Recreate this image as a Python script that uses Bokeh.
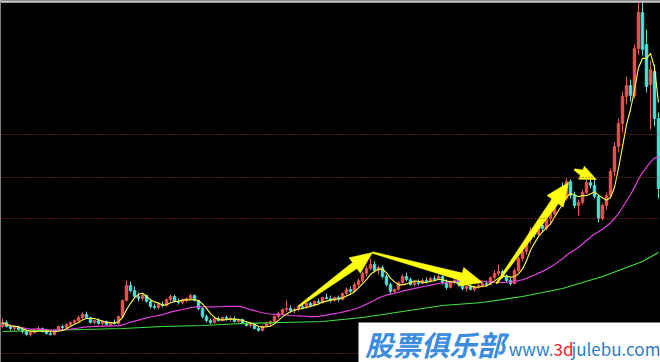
import numpy as np
import pandas as pd
from bokeh.plotting import figure
from bokeh.models import Range1d, Span, BoxAnnotation, Label, ColumnDataSource
from bokeh.embed import file_html
from bokeh.resources import INLINE

# Daily OHLC prices
opens = [6.8, 7.2, 6.8, 6.6, 6.7, 6.5, 6.3, 6.0, 6.2, 6.5,
         6.6, 6.3, 6.1, 6.0, 6.4, 6.8, 6.7, 7.0, 7.2, 7.4,
         7.7, 8.0, 7.7, 7.2, 7.4, 7.1, 7.3, 7.0, 7.2, 7.1,
         7.8, 9.4, 10.9, 10.4, 9.8, 9.6, 9.9, 9.3, 8.8, 8.7,
         9.0, 8.9, 9.5, 9.8, 9.3, 9.2, 9.4, 9.6, 9.9, 9.4,
         8.6, 7.8, 7.4, 7.2, 7.6, 7.4, 7.7, 7.5, 7.6, 7.3,
         7.5, 7.1, 6.9, 7.0, 6.6, 6.4, 6.8, 7.1, 7.3, 7.8,
         8.1, 8.5, 8.6, 8.4, 8.5, 8.8, 8.7, 9.1, 8.9, 9.3,
         9.2, 9.7, 9.6, 9.4, 9.7, 9.5, 10.1, 10.5, 10.3, 11.0,
         11.4, 12.1, 12.6, 13.0, 12.4, 12.7, 11.8, 11.0, 10.3, 10.5,
         11.2, 11.8, 11.5, 11.0, 11.2, 11.1, 11.4, 11.3, 11.6, 11.5,
         11.8, 11.2, 10.7, 11.2, 11.4, 11.0, 10.6, 10.8, 10.5, 10.8,
         10.9, 11.1, 11.0, 11.7, 12.1, 12.3, 11.8, 11.4, 11.1, 12.4,
         13.6, 14.3, 15.5, 16.3, 16.0, 16.9, 16.6, 17.6, 18.1, 19.5,
         20.2, 19.6, 21.3, 19.9, 18.9, 19.2, 20.2, 21.2, 20.9, 19.8,
         17.6, 18.9, 19.9, 22.3, 24.8, 27.1, 29.8, 30.9, 29.9, 34.6,
         38.2, 35.0, 31.0, 32.3, 27.6]
highs = [7.6, 7.4, 7.0, 6.9, 6.9, 6.7, 6.5, 6.3, 6.6, 6.8,
         6.7, 6.5, 6.4, 6.5, 6.9, 7.0, 7.1, 7.3, 7.5, 7.9,
         8.2, 8.3, 7.8, 7.5, 7.6, 7.4, 7.4, 7.3, 7.5, 7.9,
         9.5, 11.4, 11.3, 10.8, 10.2, 10.1, 10.0, 9.5, 9.1, 9.2,
         9.3, 9.6, 10.0, 10.0, 9.6, 9.6, 9.7, 10.1, 10.0, 9.5,
         8.7, 8.0, 7.6, 7.7, 7.8, 7.8, 7.9, 7.8, 7.8, 7.6,
         7.6, 7.3, 7.2, 7.1, 6.8, 6.9, 7.2, 7.4, 7.9, 8.3,
         8.6, 9.4, 8.9, 8.7, 8.9, 9.1, 9.2, 9.3, 9.4, 9.6,
         9.8, 10.1, 9.9, 9.8, 9.9, 10.2, 10.7, 10.8, 11.2, 11.6,
         12.3, 12.9, 13.6, 13.3, 12.9, 12.9, 12.0, 11.2, 10.6, 11.3,
         12.0, 12.2, 11.7, 11.4, 11.5, 11.6, 11.7, 11.8, 11.9, 12.0,
         11.9, 11.5, 11.4, 11.6, 11.5, 11.1, 10.9, 11.0, 10.9, 11.1,
         11.2, 11.4, 11.8, 12.4, 13.0, 12.5, 12.0, 11.7, 12.6, 13.8,
         14.6, 15.8, 16.7, 16.8, 17.2, 17.6, 17.9, 18.4, 19.8, 20.5,
         21.2, 21.6, 21.5, 20.3, 19.5, 20.5, 21.5, 21.6, 21.6, 20.0,
         19.1, 20.2, 22.6, 25.2, 27.6, 30.3, 31.8, 31.5, 35.0, 39.3,
         39.2, 36.5, 33.4, 33.0, 28.2]
lows = [6.6, 6.7, 6.4, 6.3, 6.4, 6.1, 5.9, 5.8, 6.1, 6.3,
        6.2, 6.0, 5.9, 5.9, 6.3, 6.5, 6.6, 6.8, 7.0, 7.2,
        7.5, 7.6, 7.1, 7.0, 7.0, 6.9, 6.9, 6.8, 7.0, 7.0,
        7.7, 9.3, 10.2, 9.6, 9.3, 9.4, 9.2, 8.6, 8.5, 8.5,
        8.7, 8.8, 9.3, 9.2, 9.0, 9.0, 9.2, 9.4, 9.3, 8.4,
        7.6, 7.2, 7.0, 7.1, 7.3, 7.3, 7.4, 7.3, 7.2, 7.1,
        7.0, 6.8, 6.7, 6.5, 6.3, 6.3, 6.7, 6.9, 7.2, 7.6,
        8.0, 8.3, 8.2, 8.1, 8.3, 8.5, 8.6, 8.7, 8.8, 9.0,
        9.1, 9.5, 9.2, 9.3, 9.3, 9.4, 9.9, 10.1, 10.2, 10.7,
        11.2, 11.8, 12.4, 12.2, 12.0, 11.6, 10.8, 10.0, 10.1, 10.4,
        11.0, 11.3, 10.9, 10.8, 10.9, 11.0, 11.1, 11.2, 11.3, 11.4,
        11.0, 10.5, 10.6, 11.0, 10.8, 10.4, 10.3, 10.4, 10.3, 10.6,
        10.7, 10.8, 10.9, 11.5, 11.9, 11.6, 11.2, 10.9, 11.0, 12.2,
        13.3, 14.0, 15.1, 15.7, 15.8, 16.3, 16.4, 17.0, 17.9, 19.2,
        19.3, 19.4, 19.6, 18.6, 17.9, 19.0, 20.0, 20.6, 19.6, 17.2,
        17.4, 18.5, 19.7, 21.8, 24.2, 26.2, 29.0, 29.3, 29.6, 34.0,
        33.9, 30.2, 26.5, 26.8, 19.6]
closes = [7.2, 6.8, 6.6, 6.7, 6.5, 6.3, 6.0, 6.2, 6.5, 6.6,
          6.3, 6.1, 6.0, 6.4, 6.8, 6.7, 7.0, 7.2, 7.4, 7.7,
          8.0, 7.7, 7.2, 7.4, 7.1, 7.3, 7.0, 7.2, 7.1, 7.8,
          9.4, 10.9, 10.4, 9.8, 9.6, 9.9, 9.3, 8.8, 8.7, 9.0,
          8.9, 9.5, 9.8, 9.3, 9.2, 9.4, 9.6, 9.9, 9.4, 8.6,
          7.8, 7.4, 7.2, 7.6, 7.4, 7.7, 7.5, 7.6, 7.3, 7.5,
          7.1, 6.9, 7.0, 6.6, 6.4, 6.8, 7.1, 7.3, 7.8, 8.1,
          8.5, 8.6, 8.4, 8.5, 8.8, 8.7, 9.1, 8.9, 9.3, 9.2,
          9.7, 9.6, 9.4, 9.7, 9.5, 10.1, 10.5, 10.3, 11.0, 11.4,
          12.1, 12.6, 13.0, 12.4, 12.7, 11.8, 11.0, 10.3, 10.5, 11.2,
          11.8, 11.5, 11.0, 11.2, 11.1, 11.4, 11.3, 11.6, 11.5, 11.8,
          11.2, 10.7, 11.2, 11.4, 11.0, 10.6, 10.8, 10.5, 10.8, 10.9,
          11.1, 11.0, 11.7, 12.1, 12.3, 11.8, 11.4, 11.1, 12.4, 13.6,
          14.3, 15.5, 16.3, 16.0, 16.9, 16.6, 17.6, 18.1, 19.5, 20.2,
          19.6, 21.3, 19.9, 18.9, 19.2, 20.2, 21.2, 20.9, 19.8, 17.6,
          18.9, 19.9, 22.3, 24.8, 27.1, 29.8, 30.9, 29.9, 34.6, 38.2,
          34.5, 30.8, 32.5, 27.6, 20.6]

# Long-term moving average (sampled every ten sessions)
ma_long_idx = [0, 10, 20, 30, 40, 50, 60, 70, 80, 90,
               100, 110, 120, 130, 140, 150, 160, 164]
ma_long_val = [6.3, 6.4, 6.5, 6.6, 6.8, 6.9, 7.1, 7.2, 7.3, 7.7,
               8.3, 8.9, 9.2, 9.8, 10.6, 11.8, 13.3, 14.2]

# Horizontal price reference levels
grid_levels = [26.0, 21.7, 17.6, 4.1]

# Trend arrows: tail -> tip (session index, price), relative head size
arrow_tail_x = [74.0, 92.5, 123.5, 143.0]
arrow_tail_y = [8.8, 14.2, 11.1, 22.5]
arrow_tip_x = [92.5, 120.0, 141.5, 148.5]
arrow_tip_y = [14.2, 11.2, 21.2, 21.5]
arrow_scale = [1.0, 1.0, 1.05, 0.75]

W, H = 660, 362
n = len(closes)
x_lo, x_hi = -0.5, n - 0.5
y_lo, y_hi = 3.2, 39.4

idx = np.arange(n)
o = np.array(opens); c = np.array(closes)
hi = np.array(highs); lo = np.array(lows)
up = c >= o
RED, CYAN = "#f25450", "#4fe3dc"
colors = [RED if u else CYAN for u in up]

src = ColumnDataSource(dict(
    x=idx, top=np.maximum(o, c), bottom=np.minimum(o, c),
    high=hi, low=lo, color=colors))

close_s = pd.Series(closes)
ma_short = close_s.rolling(5, min_periods=1).mean()
ma_mid = close_s.rolling(30, min_periods=1).mean()

p = figure(width=W, height=H, x_range=Range1d(x_lo, x_hi), y_range=Range1d(y_lo, y_hi),
           x_axis_type=None, y_axis_type=None, toolbar_location=None,
           output_backend="svg", min_border=0)
p.min_border_left = p.min_border_right = p.min_border_top = p.min_border_bottom = 0
p.background_fill_color = "black"
p.border_fill_color = "black"
p.outline_line_color = None
p.grid.visible = False

for lvl in grid_levels:
    p.add_layout(Span(location=lvl, dimension="width", line_color="#b83030",
                      line_width=1, line_dash="1 2"))
p.add_layout(Span(location=y_hi - 0.12, dimension="width", line_color="#c8c8c8", line_width=2))

# Candles
p.segment(x0="x", y0="low", x1="x", y1="high", color="color", line_width=1, source=src)
p.vbar(x="x", width=0.68, top="top", bottom="bottom", fill_color="color",
       line_color="color", line_width=0.6, source=src)

# Moving averages
p.line(ma_long_idx, ma_long_val, line_color="#3ee23e", line_width=1.2)
p.line(idx, ma_mid.values, line_color="#e040e0", line_width=1.2)
p.line(idx, ma_short.values, line_color="#ffff44", line_width=1.1)

# Arrow outlines built in pixel space so the shape is not distorted
sx = W / (x_hi - x_lo)
sy = H / (y_hi - y_lo)
axs, ays = [], []
for x0, y0, x1, y1, k in zip(arrow_tail_x, arrow_tail_y, arrow_tip_x, arrow_tip_y, arrow_scale):
    p0 = np.array([x0 * sx, y0 * sy]); p1 = np.array([x1 * sx, y1 * sy])
    d = p1 - p0
    u = d / np.hypot(*d)
    nrm = np.array([-u[1], u[0]])
    base = p1 - u * 22 * k
    pts = [p0 + nrm * 0.8, base + nrm * 3.8 * k, base + nrm * 9.5 * k, p1,
           base - nrm * 9.5 * k, base - nrm * 3.8 * k, p0 - nrm * 0.8]
    axs.append([q[0] / sx for q in pts])
    ays.append([q[1] / sy for q in pts])
p.patches(axs, ays, fill_color="#ffff10", line_color="#ffff10", line_width=0.5)

# Site banner
p.add_layout(BoxAnnotation(left=89.0, right=x_hi, bottom=y_lo, top=7.2,
                           fill_color="white", fill_alpha=1.0, line_color=None))
p.add_layout(Label(x=90.6, y=5.1, text="股票俱乐部", text_font="Noto Sans CJK SC",
                   text_font_style="bold italic", text_font_size="28px",
                   text_color="#3b8de0", text_baseline="middle", text_align="left"))
url_x, url_y = 137.75, 4.6
url_font = "Noto Sans CJK SC"
p.add_layout(Label(x=url_x, y=url_y, text="www.", text_font=url_font,
                   text_font_size="17px", text_color="#2f7cc6",
                   text_baseline="middle", text_align="right"))
p.add_layout(Label(x=url_x, y=url_y, text="3d", text_font=url_font,
                   text_font_size="17px", text_color="#e8222a",
                   text_baseline="middle", text_align="left"))
p.add_layout(Label(x=url_x, y=url_y, x_offset=18, text="julebu.com", text_font=url_font,
                   text_font_size="17px", text_color="#2f7cc6",
                   text_baseline="middle", text_align="left"))

open("out.html", "w").write(file_html(p, INLINE))
